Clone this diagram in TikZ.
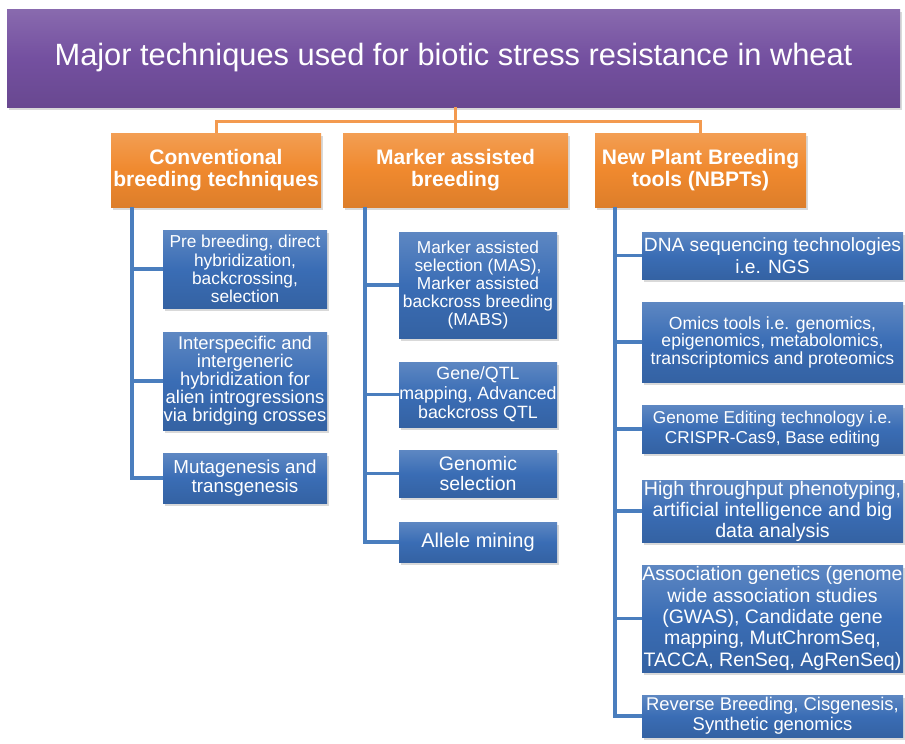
\documentclass[tikz,border=0pt]{standalone}
\usepackage{fontspec}
\setmainfont{Liberation Sans}
\usetikzlibrary{shadows}
\definecolor{tpurple}{HTML}{7450A0}
\definecolor{borange}{HTML}{F0892E}
\definecolor{bblue}{HTML}{3A6DB5}
\definecolor{lblue}{HTML}{4A7EBE}
\definecolor{lorange}{HTML}{F39A4F}

\begin{document}
\begin{tikzpicture}[x=1pt, y=-1pt,
  box/.style={rectangle, inner sep=0pt, align=center, text=white,
    drop shadow={shadow xshift=2pt, shadow yshift=-2.5pt, opacity=0.3}},
  head/.style={box, top color=borange!82!white, bottom color=borange!92!black,
    middle color=borange, minimum height=74pt,
    font=\bfseries\fontsize{21}{22.5}\selectfont},
  item/.style={box, top color=bblue!82!white, bottom color=bblue!90!black,
    middle color=bblue},
  col1/.style={item, minimum width=164pt},
  col2/.style={item, minimum width=158pt},
  col3/.style={item, minimum width=261pt},
  oline/.style={lorange, line width=3pt},
  bline/.style={lblue, line width=3.5pt}]

\useasboundingbox (0,0) rectangle (905,744);

% Title
\node[box, top color=tpurple!85!white, bottom color=tpurple!90!black,
  middle color=tpurple, minimum width=893pt, minimum height=98pt,
  font=\fontsize{30.8}{32}\selectfont] (title) at (453.5,58)
  {Major techniques used for biotic stress resistance in wheat};

% Main groups
\node[head, minimum width=210pt] (cbt) at (216,170) {Conventional\\breeding techniques};
\node[head, minimum width=225pt] (mab) at (455.5,170) {Marker assisted\\breeding};
\node[head, minimum width=211pt] (nbt) at (700.5,170) {New Plant Breeding\\tools (NBPTs)};

% Conventional breeding
\node[col1, minimum height=78pt, font=\fontsize{17.3}{18.3}\selectfont] (c1) at (245,269)
  {Pre breeding, direct\\hybridization,\\backcrossing,\\selection};
\node[col1, minimum height=98pt, font=\fontsize{18.4}{18}\selectfont] (c2) at (245,381)
  {Interspecific and\\intergeneric\\hybridization for\\alien introgressions\\via bridging crosses};
\node[col1, minimum height=50pt, font=\fontsize{18.8}{18.5}\selectfont] (c3) at (245,478)
  {Mutagenesis and\\transgenesis};

% Marker assisted breeding
\node[col2, minimum height=106pt, font=\fontsize{17.3}{18}\selectfont] (m1) at (478,285)
  {Marker assisted\\selection (MAS),\\Marker assisted\\backcross breeding\\(MABS)};
\node[col2, minimum height=65pt, font=\fontsize{17.8}{19.5}\selectfont] (m2) at (478,394.5)
  {Gene/QTL\\mapping, Advanced\\backcross QTL};
\node[col2, minimum height=47pt, font=\fontsize{19.5}{20}\selectfont] (m3) at (478,473.5)
  {Genomic\\selection};
\node[col2, minimum height=40pt, font=\fontsize{20}{21}\selectfont] (m4) at (478,542)
  {Allele mining};

% New plant breeding tools
\node[col3, minimum height=47pt, font=\fontsize{19.2}{22}\selectfont] (n1) at (772.5,255.5)
  {DNA sequencing technologies\\i.e. NGS};
\node[col3, minimum height=80pt, font=\fontsize{17.6}{17.5}\selectfont] (n2) at (772.5,342)
  {Omics tools i.e. genomics,\\epigenomics, metabolomics,\\transcriptomics and proteomics};
\node[col3, minimum height=48pt, font=\fontsize{17.2}{20}\selectfont] (n3) at (772.5,429)
  {Genome Editing technology i.e.\\CRISPR-Cas9, Base editing};
\node[col3, minimum height=62pt, font=\fontsize{19.6}{21}\selectfont] (n4) at (772.5,511)
  {High throughput phenotyping,\\artificial intelligence and big\\data analysis};
\node[col3, minimum height=107pt, font=\fontsize{19.5}{21.3}\selectfont] (n5) at (772.5,618.5)
  {Association genetics (genome\\wide association studies\\(GWAS), Candidate gene\\mapping, MutChromSeq,\\TACCA, RenSeq, AgRenSeq)};
\node[col3, minimum height=42pt, font=\fontsize{18.4}{20}\selectfont] (n6) at (772.5,716)
  {Reverse Breeding, Cisgenesis,\\Synthetic genomics};

% Orange links from the title
\coordinate (hub) at (455.5,121);
\draw[oline] (title.south -| hub) -- (hub);
\draw[oline] (cbt.north) |- (hub) -| (nbt.north);
\draw[oline] (mab.north) -- (hub);

% Blue links to the techniques
\foreach \b in {c1,c2,c3}
  \draw[bline] ([xshift=21pt]cbt.south west) |- (\b.west);
\foreach \b in {m1,m2,m3,m4}
  \draw[bline] ([xshift=22pt]mab.south west) |- (\b.west);
\foreach \b in {n1,n2,n3,n4,n5,n6}
  \draw[bline] ([xshift=20pt]nbt.south west) |- (\b.west);

\end{tikzpicture}
\end{document}
